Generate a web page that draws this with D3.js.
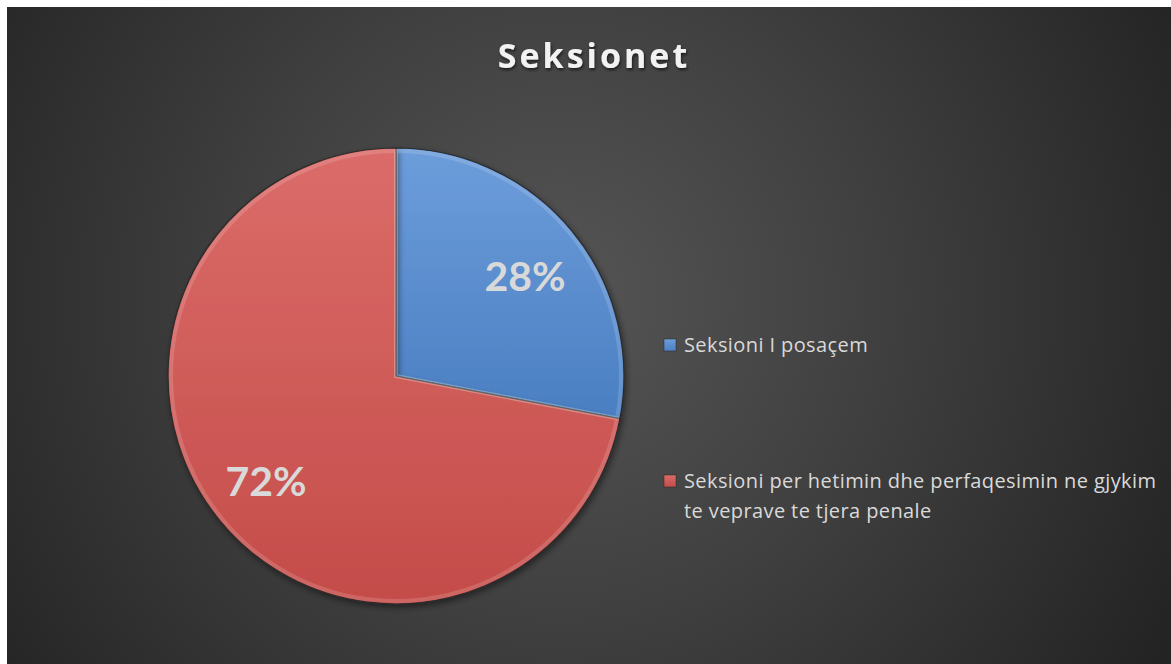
<!DOCTYPE html>
<html>
<head>
<meta charset="utf-8">
<style>
  body { margin: 0; background: #fff; }
  svg { display: block; font-family: Lato, "Open Sans", sans-serif; }
</style>
</head>
<body>
<svg width="1171" height="664"></svg>
<script src="https://d3js.org/d3.v7.min.js"></script>
<script>

var categories = ["Seksioni I posaçem", "Seksioni per hetimin dhe perfaqesimin ne gjykim te veprave te tjera penale"];
var legendLines = [["Seksioni I posaçem"], ["Seksioni per hetimin dhe perfaqesimin ne gjykim", "te veprave te tjera penale"]];
var shares = [28, 72];
var colors = ["#4f81bd", "#c0504d"];

var svg = d3.select("svg"),
    width = +svg.attr("width"),
    height = +svg.attr("height");

var defs = svg.append("defs");

// background radial gradient
var bg = defs.append("radialGradient")
    .attr("id", "bg")
    .attr("gradientUnits", "userSpaceOnUse")
    .attr("cx", 560).attr("cy", 300).attr("r", 700);
bg.append("stop").attr("offset", "0%").attr("stop-color", "#555555");
bg.append("stop").attr("offset", "45%").attr("stop-color", "#404040");
bg.append("stop").attr("offset", "100%").attr("stop-color", "#232323");

svg.append("rect")
    .attr("x", 7).attr("y", 7)
    .attr("width", width - 7).attr("height", height - 7)
    .attr("fill", "url(#bg)");

// slice gradients
var grads = [["#6d9ddb", "#4a7fc2"], ["#db6c69", "#c44c49"]];
grads.forEach(function(g, i) {
  var lg = defs.append("linearGradient")
      .attr("id", "slice" + i)
      .attr("x1", 0).attr("y1", 0).attr("x2", 0).attr("y2", 1);
  lg.append("stop").attr("offset", "0%").attr("stop-color", g[0]);
  lg.append("stop").attr("offset", "100%").attr("stop-color", g[1]);
});

var shadow = defs.append("filter").attr("id", "shadow")
    .attr("x", "-10%").attr("y", "-10%").attr("width", "130%").attr("height", "130%");
shadow.append("feDropShadow")
    .attr("dx", 2).attr("dy", 3).attr("stdDeviation", 3)
    .attr("flood-color", "#000").attr("flood-opacity", 0.45);

var cx = 396, cy = 376, r = 228;

var pie = d3.pie().sort(null).value(function(d) { return d; });
var arcs = pie(shares);

var arc = d3.arc().innerRadius(0).outerRadius(r);
var bevel = d3.arc().innerRadius(0).outerRadius(r - 3);

var g = svg.append("g").attr("transform", "translate(" + cx + "," + cy + ")");

g.selectAll("path.slice")
    .data(arcs)
  .enter().append("path")
    .attr("class", "slice")
    .attr("d", arc)
    .attr("fill", function(d, i) { return "url(#slice" + i + ")"; })
    .attr("stroke", "#2a2a2a")
    .attr("stroke-width", 1.2)
    .attr("filter", "url(#shadow)");

// soft bevel highlight
g.selectAll("path.bevel")
    .data(arcs)
  .enter().append("path")
    .attr("class", "bevel")
    .attr("d", bevel)
    .attr("fill", "none")
    .attr("stroke", "#ffffff")
    .attr("stroke-opacity", 0.15)
    .attr("stroke-width", 4);

var pos = [[129, -99], [-130, 106]];
g.selectAll("text.pct")
    .data(arcs)
  .enter().append("text")
    .attr("class", "pct")
    .attr("x", function(d, i) { return pos[i][0]; })
    .attr("y", function(d, i) { return pos[i][1]; })
    .attr("text-anchor", "middle")
    .attr("dy", "0.35em")
    .attr("fill", "#d9d9d9")
    .attr("font-size", 41)
    .attr("font-weight", "bold")
    .text(function(d) { return d.data + "%"; });

// title
var tshadow = defs.append("filter").attr("id", "tshadow");
tshadow.append("feDropShadow")
    .attr("dx", 1).attr("dy", 2).attr("stdDeviation", 1.5)
    .attr("flood-color", "#000").attr("flood-opacity", 0.6);

svg.append("text")
    .attr("x", 594).attr("y", 68)
    .attr("text-anchor", "middle")
    .attr("fill", "#f2f2f2")
    .attr("font-family", "'Open Sans', sans-serif")
    .attr("font-size", 34)
    .attr("font-weight", "bold")
    .attr("letter-spacing", 3)
    .attr("filter", "url(#tshadow)")
    .text("Seksionet");

// legend
var legendY = [345, 481];
var leg = svg.selectAll("g.leg")
    .data(categories)
  .enter().append("g")
    .attr("class", "leg")
    .attr("transform", function(d, i) { return "translate(664," + legendY[i] + ")"; });

leg.append("rect")
    .attr("x", 0).attr("y", -6)
    .attr("width", 12).attr("height", 12)
    .attr("fill", function(d, i) { return "url(#slice" + i + ")"; })
    .attr("stroke", "#2a2a2a")
    .attr("stroke-width", 0.5);

leg.append("text")
    .attr("fill", "#d9d9d9")
    .attr("font-family", "'Open Sans', sans-serif")
    .attr("font-size", 20)
    .attr("letter-spacing", 0.4)
    .selectAll("tspan")
    .data(function(d, i) { return legendLines[i]; })
  .enter().append("tspan")
    .attr("x", 20)
    .attr("y", function(d, i) { return 7 + i * 30; })
    .text(function(d) { return d; });

</script>
</body>
</html>
